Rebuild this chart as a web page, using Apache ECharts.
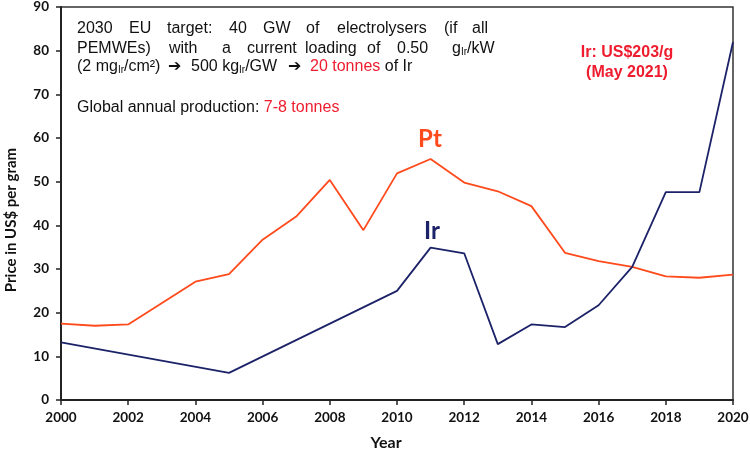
<!DOCTYPE html>
<html>
<head>
<meta charset="utf-8">
<script src="https://cdn.jsdelivr.net/npm/echarts@6/dist/echarts.min.js"></script>
<style>html,body{margin:0;padding:0;background:#fff}#c{width:750px;height:452px}</style>
</head>
<body>
<div id="c"></div>
<script>
// ---- data ----
const ptYears = [2000,2001,2002,2004,2005,2006,2007,2008,2009,2010,2011,2012,2013,2014,2015,2016,2017,2018,2019,2020];
const ptPrices = [17.5,17.0,17.3,27.1,28.8,36.7,42.0,50.4,38.9,51.9,55.2,49.8,47.8,44.4,33.7,31.8,30.5,28.3,28.0,28.7];
const irYears = [2000,2005,2010,2011,2012,2013,2014,2015,2016,2017,2018,2019,2020];
const irPrices = [13.2,6.2,25.0,34.9,33.6,12.8,17.3,16.7,21.7,30.5,47.6,47.6,82.0];
const xTicks = {min:2000, max:2020, step:2};
const yTicks = {min:0, max:90, step:10};

const ptColor = '#ff4a1c';
const irColor = '#1c2268';
const red = '#ee1c2e';
const font = 'Liberation Sans, Arial, sans-serif';
const bold = 'Lato, "Open Sans", sans-serif';

const chart = echarts.init(document.getElementById('c'), null, {renderer:'canvas'});

function word(t, x, y, color) {
  return {type:'text', x:x, y:y, style:{text:t, fill:color||'#111', font:'16px ' + font, textVerticalAlign:'middle'}};
}
function arrow(x, y) {
  return {type:'text', x:x, y:y, style:{text:'➔', fill:'#111', font:'bold 16px "DejaVu Sans", sans-serif', textVerticalAlign:'middle'}};
}
const subRich = {
  s: {fontSize:10, fontFamily:font, fill:'#111', padding:[7,0,0,0]},
  r: {fontSize:16, fontFamily:font, fill:red},
  n: {fontSize:16, fontFamily:font, fill:'#111'}
};
function rich(t, x, y) {
  return {type:'text', x:x, y:y, style:{rich:subRich, text:t, textVerticalAlign:'middle'}};
}
const graphics = [
  // line 1 (justified)
  word('2030', 77, 29), word('EU', 129, 29), word('target:', 167, 29), word('40', 229, 29),
  word('GW', 263, 29), word('of', 306, 29), word('electrolysers', 337, 29), word('(if', 444, 29), word('all', 472, 29),
  // line 2 (justified)
  word('PEMWEs)', 77, 49), word('with', 169, 49), word('a', 222, 49), word('current', 247, 49),
  word('loading', 305, 49), word('of', 367, 49), word('0.50', 397, 49),
  rich('{n|g}{s|Ir}{n|/kW}', 452, 49),
  // line 3
  rich('{n|(2 mg}{s|Ir}{n|/cm²)}', 77, 67),
  arrow(168, 67),
  rich('{n|500 kg}{s|Ir}{n|/GW}', 191, 67),
  arrow(288, 67),
  rich('{r|20 tonnes}{n| of Ir}', 310, 67),
  // line 4
  rich('{n|Global annual production: }{r|7-8 tonnes}', 77, 108),
  // red note
  {type:'text', x:627, y:53, style:{text:'Ir: US$203/g', fill:red, font:'bold 16px ' + font, textAlign:'center', textVerticalAlign:'middle'}},
  {type:'text', x:627, y:73, style:{text:'(May 2021)', fill:red, font:'bold 16px ' + font, textAlign:'center', textVerticalAlign:'middle'}},
  // series labels
  {type:'text', x:430, y:139, style:{text:'Pt', fill:ptColor, font:'bold 24px ' + bold, textAlign:'center', textVerticalAlign:'middle'}},
  {type:'text', x:432, y:231, style:{text:'Ir', fill:irColor, font:'bold 24px ' + bold, textAlign:'center', textVerticalAlign:'middle'}},
  // axis titles
  {type:'text', x:11, y:220, rotation:Math.PI/2, style:{text:'Price in US$ per gram', fill:'#111', font:'bold 15px ' + bold, textAlign:'center', textVerticalAlign:'middle'}},
  {type:'text', x:386, y:443, style:{text:'Year', fill:'#111', font:'bold 16px ' + bold, textAlign:'center', textVerticalAlign:'middle'}}
];

chart.setOption({
  animation:false,
  backgroundColor:'#fff',
  grid:{left:61, right:17, top:7, bottom:52, containLabel:false, outerBoundsMode:'none',
        show:true, borderColor:'#333', borderWidth:1.5, backgroundColor:'transparent'},
  xAxis:{
    type:'value', min:xTicks.min, max:xTicks.max, interval:xTicks.step,
    axisLine:{lineStyle:{color:'#222', width:2}},
    axisTick:{show:true, length:5, lineStyle:{color:'#222', width:1.5}},
    axisLabel:{fontFamily:bold, fontWeight:'bold', fontSize:13.5, color:'#111', margin:11, formatter:v=>String(v)},
    splitLine:{show:false}
  },
  yAxis:{
    type:'value', min:yTicks.min, max:yTicks.max, interval:yTicks.step,
    axisLine:{show:true, lineStyle:{color:'#222', width:2}},
    axisTick:{show:true, length:5, lineStyle:{color:'#222', width:1.5}},
    axisLabel:{fontFamily:bold, fontWeight:'bold', fontSize:13.5, color:'#111', margin:12},
    splitLine:{show:false}
  },
  series:[
    {name:'Pt', type:'line', data:ptYears.map((y,i)=>[y, ptPrices[i]]), showSymbol:false, symbol:'none',
     lineStyle:{color:ptColor, width:1.8}, itemStyle:{color:ptColor}, z:3},
    {name:'Ir', type:'line', data:irYears.map((y,i)=>[y, irPrices[i]]), showSymbol:false, symbol:'none',
     lineStyle:{color:irColor, width:1.8}, itemStyle:{color:irColor}, z:4}
  ],
  graphic:graphics
});
</script>
</body>
</html>
